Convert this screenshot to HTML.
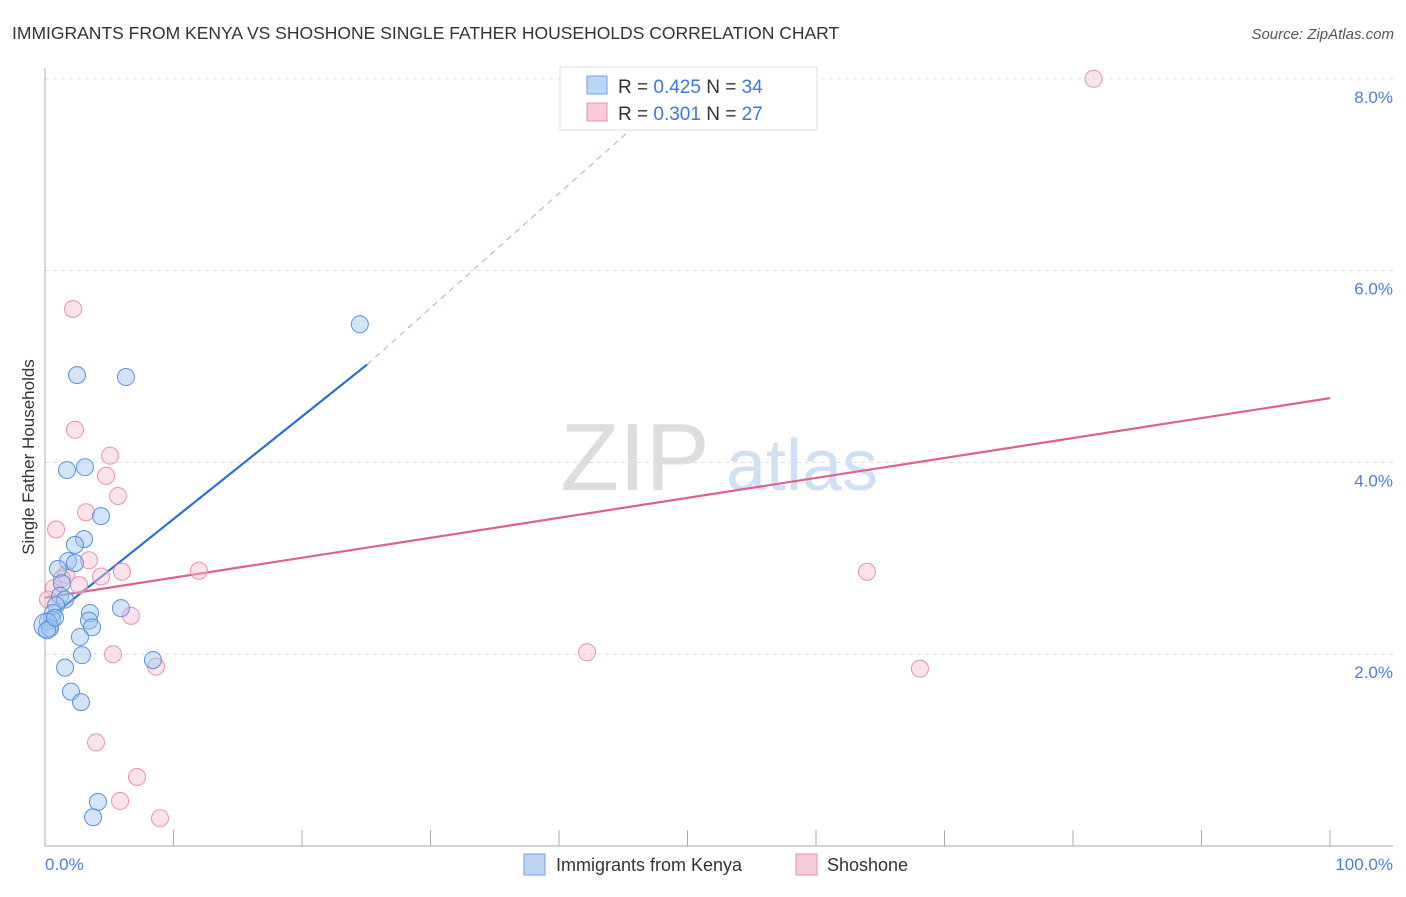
<!DOCTYPE html>
<html><head><meta charset="utf-8"><style>
body{margin:0;background:#fff;font-family:"Liberation Sans",sans-serif;}
svg text{font-family:"Liberation Sans",sans-serif;}
</style></head><body>
<svg width="1406" height="892">
<text x="12" y="39" font-size="17.5" fill="#333">IMMIGRANTS FROM KENYA VS SHOSHONE SINGLE FATHER HOUSEHOLDS CORRELATION CHART</text>
<text x="1394" y="39" font-size="15" fill="#555" font-style="italic" text-anchor="end">Source: ZipAtlas.com</text>
<g id="grid"></g>
<text x="635" y="490" font-size="96" fill="#ddd" font-family="Liberation Serif" text-anchor="middle">ZIP</text>
<text x="802" y="490" font-size="72" fill="#cfe0f3" text-anchor="middle">atlas</text>
<line x1="45" y1="68" x2="45" y2="846" stroke="#aaa"/>
<line x1="45" y1="846" x2="1393" y2="846" stroke="#aaa"/>
<g id="xticks"></g>
<text x="45" y="870" font-size="17" fill="#4a7fd4">0.0%</text>
<text x="1393" y="870" font-size="17" fill="#4a7fd4" text-anchor="end">100.0%</text>
<text transform="translate(34,457) rotate(-90)" font-size="17" fill="#333" text-anchor="middle">Single Father Households</text>
<g id="lines"></g>
<g id="pts"></g>
<g>
<rect x="560" y="67" width="257" height="63" fill="#fff" stroke="#ddd"/>
<rect x="587" y="76" width="20" height="18" fill="#bcd5f5" stroke="#6f9fe0"/>
<rect x="587" y="103" width="20" height="18" fill="#f9cad9" stroke="#e890ae"/>
<text x="618" y="93" font-size="19" fill="#333">R = <tspan fill="#3d78d8">0.425</tspan>   N = <tspan fill="#3d78d8">34</tspan></text>
<text x="618" y="120" font-size="19" fill="#333">R = <tspan fill="#3d78d8"> 0.301</tspan>   N = <tspan fill="#3d78d8">27</tspan></text>
</g>
<g>
<rect x="524" y="854" width="21" height="21" fill="#bcd5f5" stroke="#6f9fe0"/>
<text x="556" y="871" font-size="18" fill="#333">Immigrants from Kenya</text>
<rect x="796" y="854" width="21" height="21" fill="#f9cad9" stroke="#e890ae"/>
<text x="827" y="871" font-size="18" fill="#333">Shoshone</text>
</g>
</svg>
<script>
const yTicks=[2,4,6,8];
const yTickLabels=["2.0%","4.0%","6.0%","8.0%"];
const kenyaX=[24.5,2.49,6.30,1.71,3.11,4.36,3.04,2.33,1.79,2.33,1.01,1.32,1.17,1.56,0.86,3.50,5.91,0.62,3.42,3.66,0.54,0.23,0.08,2.72,2.88,8.40,1.56,2.02,2.80,4.12,3.74,0.39,0.16,0.78];
const kenyaY=[5.44,4.91,4.89,3.92,3.95,3.44,3.20,3.14,2.97,2.95,2.89,2.74,2.61,2.57,2.51,2.43,2.48,2.43,2.35,2.28,2.36,2.34,2.30,2.18,1.99,1.94,1.86,1.61,1.50,0.46,0.30,2.27,2.25,2.38];
const shoX=[81.6,2.18,2.33,5.06,4.75,5.68,3.19,0.86,3.42,5.99,11.98,4.36,1.63,2.65,0.70,6.69,5.29,42.18,8.64,63.97,68.09,3.97,7.16,5.84,8.95,0.23,1.32];
const shoY=[8.00,5.60,4.34,4.07,3.86,3.65,3.48,3.30,2.98,2.86,2.87,2.81,2.83,2.72,2.69,2.40,2.00,2.02,1.87,2.86,1.85,1.08,0.72,0.47,0.29,2.57,2.79];
const kenyaTrend=[[0,2.34],[25.06,5.02]];
const kenyaTrendExt=[[25.06,5.02],[47.5,7.7]];
const shoTrend=[[0,2.59],[100,4.67]];
const X=v=>45+v*12.85, Y=v=>846-v*95.9;
const NS="http://www.w3.org/2000/svg";
function mk(t,a,p){const e=document.createElementNS(NS,t);for(const k in a)e.setAttribute(k,a[k]);p.appendChild(e);return e;}
const grid=document.getElementById('grid');
yTicks.forEach((t,i)=>{
 const l=mk('line',{x1:45,x2:1393,y1:Y(t),y2:Y(t),stroke:'#ddd','stroke-dasharray':'4,4'},grid);
 
 
 const tx=mk('text',{x:1393,y:Y(t)+24,'font-size':17,fill:'#4a7fd4','text-anchor':'end'},grid);
 tx.textContent=yTickLabels[i];
 
 
});
const xt=document.getElementById('xticks');
for(let i=0;i<=10;i++){const l=mk('line',{x1:X(i*10),x2:X(i*10),y1:830,y2:846,stroke:'#aaa'},xt);
 
 }
const pts=document.getElementById('pts');
shoX.forEach((v,i)=>{const c=mk('circle',{cx:X(v),cy:Y(shoY[i]),r:8.5,fill:'rgba(249,190,210,0.45)',stroke:'#e890ae','stroke-width':1},pts);
 
 });
kenyaX.forEach((v,i)=>{const c=mk('circle',{cx:X(v),cy:Y(kenyaY[i]),r:(i==22?12:8.5),fill:'rgba(160,196,240,0.45)',stroke:'#5b90db','stroke-width':1},pts);
 
 });
const ln=document.getElementById('lines');
const a=mk('line',{x1:X(kenyaTrend[0][0]),y1:Y(kenyaTrend[0][1]),x2:X(kenyaTrend[1][0]),y2:Y(kenyaTrend[1][1]),stroke:'#2a6fd6','stroke-width':2.2},ln);


const b=mk('line',{x1:X(kenyaTrendExt[0][0]),y1:Y(kenyaTrendExt[0][1]),x2:X(kenyaTrendExt[1][0]),y2:Y(kenyaTrendExt[1][1]),stroke:'#8fb2e4','stroke-width':1,'stroke-dasharray':'6,5'},ln);


const c=mk('line',{x1:X(shoTrend[0][0]),y1:Y(shoTrend[0][1]),x2:X(shoTrend[1][0]),y2:Y(shoTrend[1][1]),stroke:'#e0608d','stroke-width':2.2},ln);


</script>
</body></html>
